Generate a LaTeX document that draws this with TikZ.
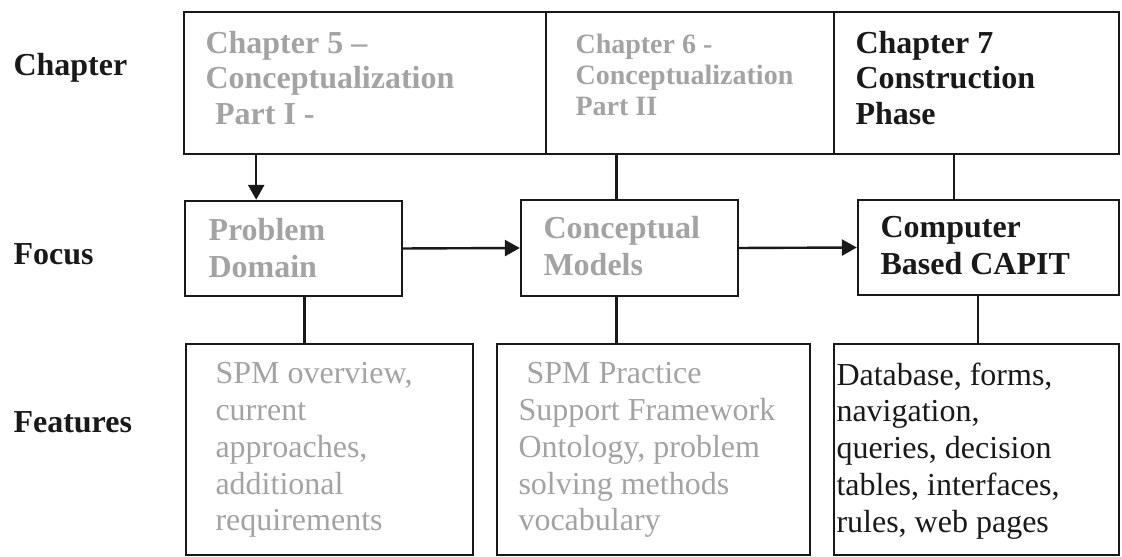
\documentclass[tikz,border=0pt]{standalone}
\usepackage{fontspec}
\setmainfont{Liberation Serif}
\usetikzlibrary{arrows.meta,calc,fit}
\definecolor{InkClr}{gray}{0.1}
\definecolor{FadeClr}{gray}{0.64}

\tikzset{
  box/.style={draw=InkClr,line width=0.9pt,inner sep=0pt},
  txt/.style={anchor=north west,inner sep=0pt,align=left,text=InkClr,
    font=\fontsize{12}{13.8}\selectfont},
  head/.style={txt,font=\fontsize{12}{13.2}\selectfont\bfseries},
  rowlab/.style={anchor=base west,inner sep=0pt,text=InkClr,
    font=\fontsize{12}{14}\selectfont\bfseries},
  link/.style={draw=InkClr,line width=0.9pt},
  arr/.style={link,-{Triangle[length=5.6pt,width=6pt]}}
}

\begin{document}
\begin{tikzpicture}[x=0.375pt,y=-0.375pt]
\useasboundingbox (0,0) rectangle (1122,557);

% row labels
\node[rowlab] (lchap) at (13,76) {Chapter};
\node[rowlab] (lfoc) at (13,265) {Focus};
\node[rowlab] (lfeat) at (13,433) {Features};

% chapters
\node[box,fit={(184,12) (546,154)}] (ch5) {};
\node[box,fit={(546,12) (834,154)}] (ch6) {};
\node[box,fit={(834,12) (1119,154)}] (ch7) {};

% focus
\node[box,fit={(185,201) (402,296)}] (prob) {};
\node[box,fit={(521,200) (738,296)}] (conc) {};
\node[box,fit={(858,200) (1119,295)}] (comp) {};

% features
\node[box,fit={(186,344) (473,555)}] (feat1) {};
\node[box,fit={(497,344) (810,555)}] (feat2) {};
\node[box,fit={(834,344) (1119,555)}] (feat3) {};

\node[head,text=FadeClr] (t5) at (205,31)
  {Chapter 5 --\\Conceptualization\\\hspace*{0.3em}Part I -};
\node[head,text=FadeClr,font=\fontsize{10.5}{11.6}\selectfont\bfseries] (t6) at (575,34)
  {Chapter 6 -\\Conceptualization\\Part II};
\node[head] (t7) at (855,31) {Chapter 7\\Construction\\Phase};

\node[head,text=FadeClr,font=\fontsize{12}{13.9}\selectfont\bfseries] (tprob) at (208,218) {Problem\\Domain};
\node[head,font=\fontsize{12}{13.9}\selectfont\bfseries,text=FadeClr] (tconc) at (543,216) {Conceptual\\Models};
\node[head,font=\fontsize{12}{13.9}\selectfont\bfseries] (tcomp) at (880,216) {Computer\\Based CAPIT};

\node[txt,text=FadeClr] (tf1) at (215,362)
  {SPM overview,\\current\\approaches,\\additional\\requirements};
\node[txt,text=FadeClr] (tf2) at (518,362)
  {\hspace*{0.25em}SPM Practice\\Support Framework\\Ontology, problem\\solving methods\\vocabulary};
\node[txt] (tf3) at (836,362)
  {Database, forms,\\navigation,\\queries, decision\\tables, interfaces,\\rules, web pages};

% connectors
\coordinate (p1) at ($(prob.north west)!.33!(prob.north east)$);
\coordinate (p2) at ($(prob.south west)!.55!(prob.south east)$);
\coordinate (c1) at ($(conc.north west)!.44!(conc.north east)$);
\coordinate (c2) at ($(conc.south west)!.44!(conc.south east)$);
\coordinate (m1) at ($(comp.north west)!.37!(comp.north east)$);
\coordinate (m2) at ($(comp.south west)!.46!(comp.south east)$);

\draw[arr] (p1 |- ch5.south) -- (p1);
\draw[arr] (prob.east) -- (conc.west);
\draw[arr] (conc.east) -- (comp.west);
\draw[link] (c1 |- ch6.south) -- (c1);
\draw[link] (m1 |- ch7.south) -- (m1);
\draw[link] (p2) -- (p2 |- feat1.north);
\draw[link] (c2) -- (c2 |- feat2.north);
\draw[link] (m2) -- (m2 |- feat3.north);
\end{tikzpicture}
\end{document}
